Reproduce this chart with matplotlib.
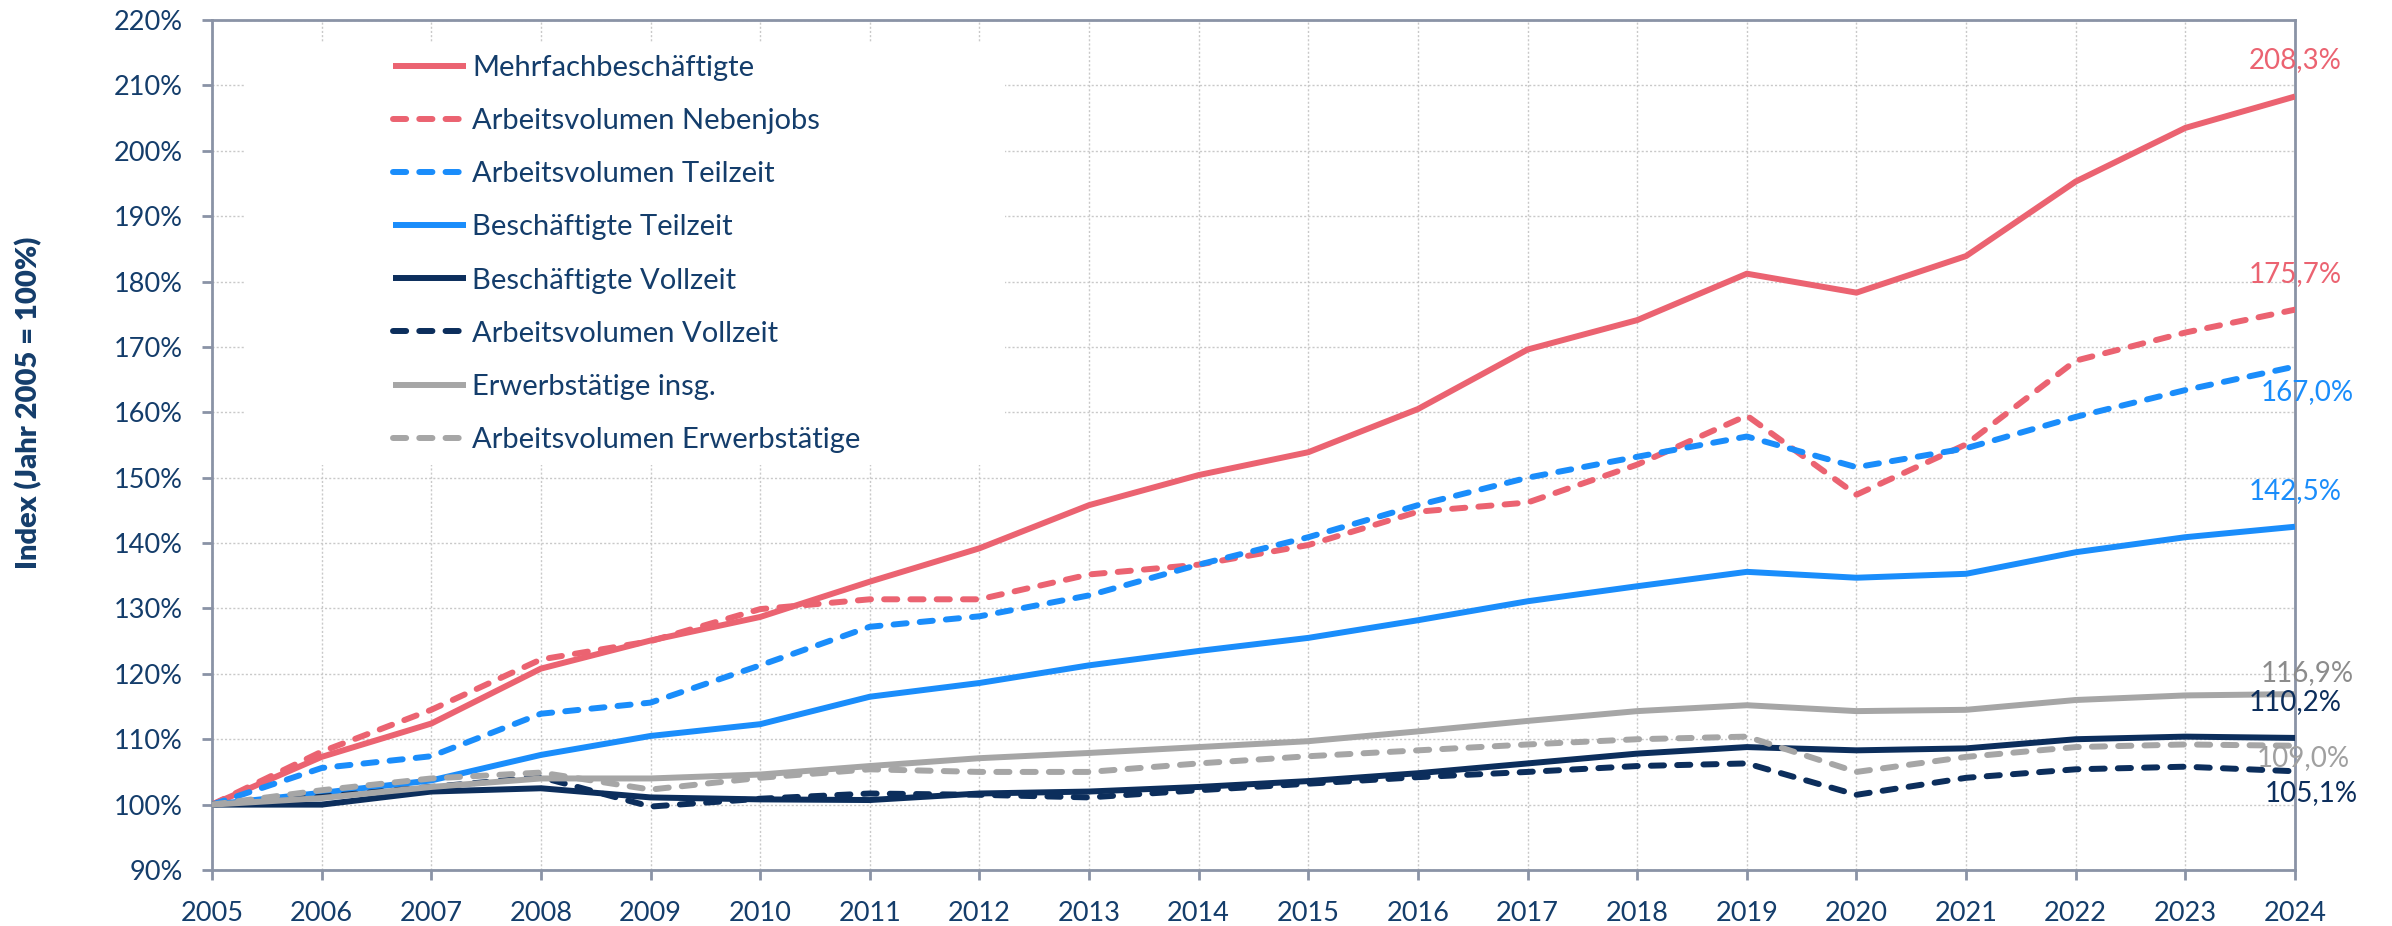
import matplotlib
matplotlib.use("Agg")
import matplotlib.pyplot as plt
from matplotlib.patches import Rectangle
from matplotlib.ticker import FixedLocator

plt.rcParams['font.family'] = ['Lato', 'DejaVu Sans']

years = list(range(2005, 2025))

mehrfach = [100, 107.3, 112.4, 120.8, 125.1, 128.7, 134.1, 139.2, 145.8, 150.4,
            153.9, 160.5, 169.6, 174.1, 181.2, 178.3, 183.9, 195.3, 203.5, 208.3]
av_nebenjobs = [100, 108.1, 114.5, 122.2, 125.0, 129.9, 131.4, 131.4, 135.2, 136.7,
                139.7, 144.8, 146.2, 152.0, 159.5, 147.4, 155.1, 167.9, 172.2, 175.7]
av_teilzeit = [100, 105.6, 107.4, 113.9, 115.6, 121.3, 127.2, 128.8, 132.0, 136.7,
               140.9, 145.8, 150.0, 153.2, 156.3, 151.6, 154.5, 159.3, 163.4, 167.0]
besch_teilzeit = [100, 101.8, 103.7, 107.6, 110.5, 112.3, 116.5, 118.6, 121.3, 123.5,
                  125.5, 128.2, 131.1, 133.4, 135.6, 134.7, 135.3, 138.6, 140.9, 142.5]
besch_vollzeit = [100, 100.0, 102.0, 102.5, 101.1, 100.8, 100.7, 101.7, 102.0, 102.7,
                  103.6, 104.8, 106.3, 107.8, 108.8, 108.3, 108.6, 110.0, 110.4, 110.2]
av_vollzeit = [100, 101.2, 102.7, 104.2, 99.7, 100.9, 101.7, 101.5, 101.1, 102.2,
               103.2, 104.2, 105.0, 105.9, 106.3, 101.5, 104.1, 105.4, 105.8, 105.1]
erwerb = [100, 101.0, 102.7, 104.0, 104.0, 104.6, 105.9, 107.1, 107.9, 108.8,
          109.7, 111.2, 112.8, 114.3, 115.2, 114.3, 114.5, 116.0, 116.7, 116.9]
av_erwerb = [100, 102.2, 104.0, 104.9, 102.3, 104.1, 105.4, 105.0, 105.0, 106.3,
             107.4, 108.3, 109.2, 110.0, 110.4, 105.0, 107.3, 108.8, 109.2, 109.0]

labels = ["Mehrfachbeschäftigte", "Arbeitsvolumen Nebenjobs", "Arbeitsvolumen Teilzeit",
          "Beschäftigte Teilzeit", "Beschäftigte Vollzeit", "Arbeitsvolumen Vollzeit",
          "Erwerbstätige insg.", "Arbeitsvolumen Erwerbstätige"]
end_texts = ["208,3%", "175,7%", "167,0%", "142,5%", "110,2%", "105,1%", "116,9%", "109,0%"]

RED = '#EB6371'
BLUE = '#1A8DFB'
NAVY = '#0C2E5C'
GRAY = '#A6A6A6'
TXT = '#143D6B'

series = [mehrfach, av_nebenjobs, av_teilzeit, besch_teilzeit,
          besch_vollzeit, av_vollzeit, erwerb, av_erwerb]
colors = [RED, RED, BLUE, BLUE, NAVY, NAVY, GRAY, GRAY]
dashed = [False, True, True, False, False, True, False, True]
label_colors = [RED, RED, BLUE, BLUE, NAVY, NAVY, '#8C8C8C', '#A0A0A0']
label_offsets = [(0, 36), (0, 36), (12, -26), (0, 36), (0, 36), (16, -22), (12, 21), (8, -12)]

fig = plt.figure(figsize=(23.92, 9.26), dpi=100)
ax = fig.add_axes([212/2392, 1-870/926, 2083/2392, 850/926])

lw = 4.3
for s, c, d, lab in zip(series, colors, dashed, labels):
    if d:
        ax.plot(years, s, color=c, lw=lw, linestyle=(0, (2.2, 2.2)),
                dash_capstyle='round', solid_joinstyle='round', label=lab, zorder=3)
    else:
        ax.plot(years, s, color=c, lw=lw, solid_capstyle='butt',
                solid_joinstyle='round', label=lab, zorder=3)

px2pt = 72/100
for s, t, c, (dx, dy) in zip(series, end_texts, label_colors, label_offsets):
    ax.annotate(t, xy=(years[-1], s[-1]), xytext=(dx*px2pt, dy*px2pt),
                textcoords='offset points', ha='center', va='center',
                fontsize=20, color=c, zorder=5, annotation_clip=False)

ax.set_xlim(2005, 2024)
ax.set_ylim(90, 220)
ax.xaxis.set_major_locator(FixedLocator(years))
ax.set_xticklabels([str(y) for y in years])
yt = list(range(90, 221, 10))
ax.yaxis.set_major_locator(FixedLocator(yt))
ax.set_yticklabels([f"{v}%" for v in yt])

ax.set_axisbelow(True)
ax.grid(True, color='#C9C9C9', linestyle=(0, (1.5, 1.5)), linewidth=1.0)
for sp in ax.spines.values():
    sp.set_color('#8A93A6')
    sp.set_linewidth(2.0)
ax.tick_params(axis='both', colors='#8A93A6', width=2.0, length=7, labelcolor=TXT,
               labelsize=19.5)
ax.tick_params(axis='x', pad=15)
ax.tick_params(axis='y', pad=14)

ax.set_ylabel("Index (Jahr 2005 = 100%)", fontsize=21, fontweight='heavy', color=TXT)
ax.yaxis.set_label_coords(-(212-42)/2083, (870-403)/850)

# white legend background
ax.add_patch(Rectangle((32/2083, (870-465)/850), (1005-244)/2083, (465-43)/850,
                       transform=ax.transAxes, facecolor='white', edgecolor='none',
                       zorder=1.5))

leg = ax.legend(loc='upper left', bbox_to_anchor=((393-212)/2083, (870-55)/850),
                frameon=False, fontsize=21, handlelength=2.5, handletextpad=0.22,
                labelspacing=0.93, borderpad=0, borderaxespad=0)
for txt in leg.get_texts():
    txt.set_color(TXT)

fig.savefig("out.png", dpi=100, facecolor='white')
